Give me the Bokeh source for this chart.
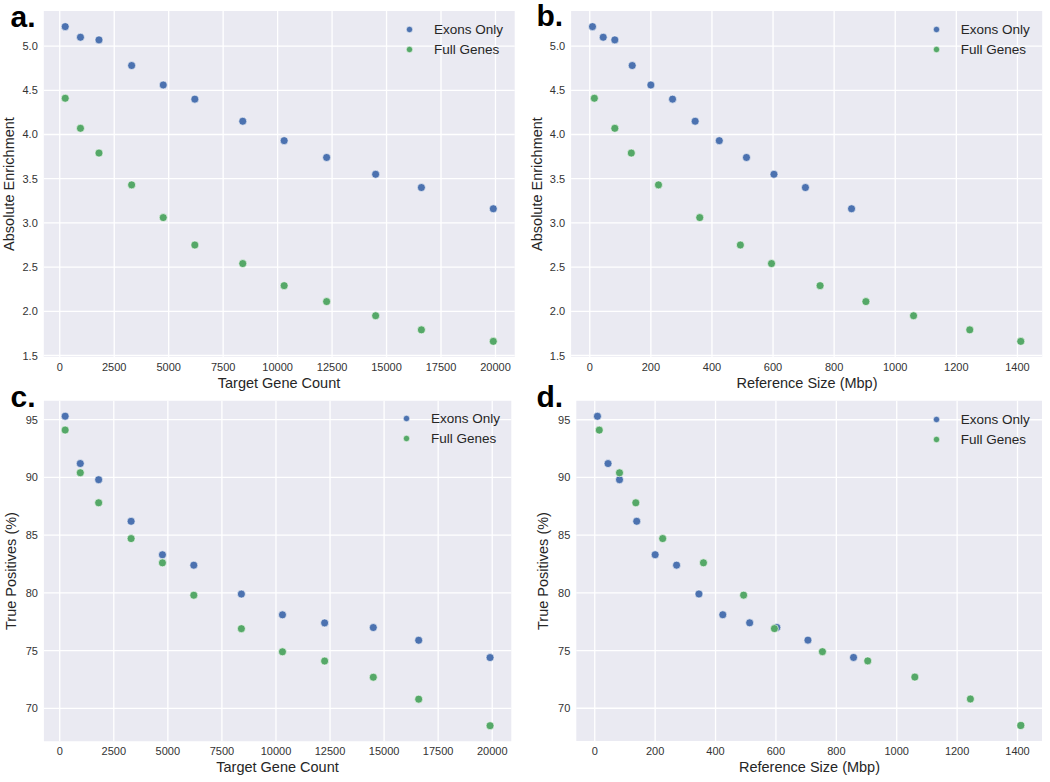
from bokeh.plotting import figure
from bokeh.models import Range1d, FixedTicker, Label, Legend, LegendItem, LinearAxis
from bokeh.embed import file_html
from bokeh.resources import INLINE

# ---------------- data ----------------
series_names = ["Exons Only", "Full Genes"]

gene_counts = [250, 950, 1800, 3300, 4750, 6200, 8400, 10300, 12250, 14500, 16600, 19900]
exon_size_mbp = [9, 44, 82, 139, 200, 271, 345, 424, 513, 603, 706, 857]
full_size_mbp = [15, 82, 136, 225, 360, 493, 595, 754, 904, 1060, 1244, 1411]

exon_enrichment = [5.22, 5.10, 5.07, 4.78, 4.56, 4.40, 4.15, 3.93, 3.74, 3.55, 3.40, 3.16]
full_enrichment = [4.41, 4.07, 3.79, 3.43, 3.06, 2.75, 2.54, 2.29, 2.11, 1.95, 1.79, 1.66]

exon_true_pos = [95.3, 91.2, 89.8, 86.2, 83.3, 82.4, 79.9, 78.1, 77.4, 77.0, 75.9, 74.4]
full_true_pos = [94.1, 90.4, 87.8, 84.7, 82.6, 79.8, 76.9, 74.9, 74.1, 72.7, 70.8, 68.5]

gene_ticks = [0, 2500, 5000, 7500, 10000, 12500, 15000, 17500, 20000]
gene_tick_labels = ["0", "2500", "5000", "7500", "10000", "12500", "15000", "17500", "20000"]
size_ticks = [0, 200, 400, 600, 800, 1000, 1200, 1400]
size_tick_labels = ["0", "200", "400", "600", "800", "1000", "1200", "1400"]
enrich_ticks = [1.5, 2.0, 2.5, 3.0, 3.5, 4.0, 4.5, 5.0]
enrich_tick_labels = ["1.5", "2.0", "2.5", "3.0", "3.5", "4.0", "4.5", "5.0"]
tp_ticks = [70, 75, 80, 85, 90, 95]
tp_tick_labels = ["70", "75", "80", "85", "90", "95"]

panel_letters = ["a.", "b.", "c.", "d."]
x_titles = ["Target Gene Count", "Reference Size (Mbp)"]
y_titles = ["Absolute Enrichment", "True Positives (%)"]

# ---------------- style / layout ----------------
FONT = "Liberation Sans"
BLUE = "#4C72B0"
GREEN = "#55A868"
BG = "#EAEAF2"
TICK_COLOR = "#333333"
TEXT_COLOR = "#262626"
W, H = 1048, 780

panels = [
    dict(name="a", letter=panel_letters[0], xe=gene_counts, xf=gene_counts,
         ye=exon_enrichment, yf=full_enrichment, xtitle=x_titles[0], ytitle=y_titles[0],
         xt=gene_ticks, xl=gene_tick_labels, yt=enrich_ticks, yl=enrich_tick_labels,
         rect=(43.3, 514.2, 10.4, 356.6), letter_xy=(10, 16), marker=(409, 29), ystand=2),
    dict(name="b", letter=panel_letters[1], xe=exon_size_mbp, xf=full_size_mbp,
         ye=exon_enrichment, yf=full_enrichment, xtitle=x_titles[1], ytitle=y_titles[0],
         xt=size_ticks, xl=size_tick_labels, yt=enrich_ticks, yl=enrich_tick_labels,
         rect=(570.6, 1041.7, 10.4, 356.6), letter_xy=(536, 15), marker=(935.7, 29.3), ystand=2),
    dict(name="c", letter=panel_letters[2], xe=gene_counts, xf=gene_counts,
         ye=exon_true_pos, yf=full_true_pos, xtitle=x_titles[0], ytitle=y_titles[1],
         xt=gene_ticks, xl=gene_tick_labels, yt=tp_ticks, yl=tp_tick_labels,
         rect=(43.4, 510.8, 400.2, 740.7), letter_xy=(10, 396), marker=(406, 418.3), ystand=3),
    dict(name="d", letter=panel_letters[3], xe=exon_size_mbp, xf=full_size_mbp,
         ye=exon_true_pos, yf=full_true_pos, xtitle=x_titles[1], ytitle=y_titles[1],
         xt=size_ticks, xl=size_tick_labels, yt=tp_ticks, yl=tp_tick_labels,
         rect=(575.8, 1041.5, 400.3, 740.5), letter_xy=(536, 396), marker=(935.7, 419), ystand=4),
]


def padded(vals):
    lo, hi = min(vals), max(vals)
    d = (hi - lo) * 0.05
    return lo - d, hi + d


p = figure(width=W, height=H, x_range=Range1d(0, W), y_range=Range1d(0, H),
           output_backend="svg", toolbar_location=None,
           x_axis_location=None, y_axis_location=None,
           min_border=0, min_border_left=0, min_border_right=0,
           min_border_top=0, min_border_bottom=0)
p.background_fill_color = "white"
p.border_fill_color = "white"
p.outline_line_color = None
for g in p.grid:
    g.visible = False

# compute each panel's data ranges so that its visible box lands on its pixel rectangle
xr_dict, yr_dict = {}, {}
for pn in panels:
    x0, x1 = padded(list(pn["xe"]) + list(pn["xf"]))
    y0, y1 = padded(list(pn["ye"]) + list(pn["yf"]))
    L, R, T, B = pn["rect"]
    sx = (x1 - x0) / (R - L)
    sy = (y1 - y0) / (B - T)
    xr_dict[pn["name"] + "x"] = Range1d(x0 - L * sx, x1 + (W - R) * sx)
    yr_dict[pn["name"] + "y"] = Range1d(y0 - (H - B) * sy, y1 + T * sy)
    pn["box"] = (x0, x1, y0, y1)
p.extra_x_ranges = xr_dict
p.extra_y_ranges = yr_dict


def style_axis(ax):
    ax.axis_line_color = None
    ax.major_tick_line_color = None
    ax.minor_tick_line_color = None
    ax.major_tick_out = 0
    ax.major_tick_in = 0
    ax.major_label_standoff = 6
    ax.major_label_text_font = FONT
    ax.major_label_text_font_size = "11px"
    ax.major_label_text_color = TICK_COLOR
    ax.axis_label_text_font = FONT
    ax.axis_label_text_font_size = "14.5px"
    ax.axis_label_text_font_style = "normal"
    ax.axis_label_text_color = TEXT_COLOR


for pn in panels:
    xn, yn = pn["name"] + "x", pn["name"] + "y"
    x0, x1, y0, y1 = pn["box"]
    kw = dict(x_range_name=xn, y_range_name=yn)

    # plot area background
    p.quad(left=[x0], right=[x1], bottom=[y0], top=[y1],
           fill_color=BG, line_color=None, **kw)
    # grid lines at the major ticks
    p.segment(x0=pn["xt"], y0=[y0] * len(pn["xt"]), x1=pn["xt"], y1=[y1] * len(pn["xt"]),
              line_color="white", line_width=1.3, **kw)
    p.segment(x0=[x0] * len(pn["yt"]), y0=pn["yt"], x1=[x1] * len(pn["yt"]), y1=pn["yt"],
              line_color="white", line_width=1.3, **kw)

    r1 = p.scatter(pn["xe"], pn["ye"], size=8, fill_color=BLUE, line_color="white",
                   line_width=0.6, **kw)
    r2 = p.scatter(pn["xf"], pn["yf"], size=8, fill_color=GREEN, line_color="white",
                   line_width=0.6, **kw)

    xa = LinearAxis(fixed_location=y0, bounds=(x0, x1),
                    ticker=FixedTicker(ticks=pn["xt"]),
                    major_label_overrides={t: l for t, l in zip(pn["xt"], pn["xl"])},
                    axis_label=pn["xtitle"], axis_label_standoff=0, **kw)
    style_axis(xa)
    p.add_layout(xa, "below")

    ya = LinearAxis(fixed_location=x0, bounds=(y0, y1),
                    ticker=FixedTicker(ticks=pn["yt"]),
                    major_label_overrides={t: l for t, l in zip(pn["yt"], pn["yl"])},
                    axis_label=pn["ytitle"], axis_label_standoff=pn["ystand"], **kw)
    style_axis(ya)
    p.add_layout(ya, "left")

    mx, my = pn["marker"]
    legend = Legend(items=[LegendItem(label=series_names[0], renderers=[r1]),
                           LegendItem(label=series_names[1], renderers=[r2])],
                    location=(mx - 8, H - my - 28),
                    border_line_color=None, background_fill_alpha=0,
                    padding=0, margin=0, spacing=4,
                    glyph_width=16, glyph_height=16, label_height=16,
                    label_standoff=17,
                    label_text_font=FONT, label_text_font_size="13.5px",
                    label_text_color=TEXT_COLOR)
    p.add_layout(legend)

    lx, lb = pn["letter_xy"]
    p.add_layout(Label(x=lx, y=H - lb, text=pn["letter"], text_align="left",
                       text_baseline="alphabetic", text_font=FONT,
                       text_font_size="30px", text_font_style="bold",
                       text_color="black"))

open("out.html", "w").write(file_html(p, INLINE))
